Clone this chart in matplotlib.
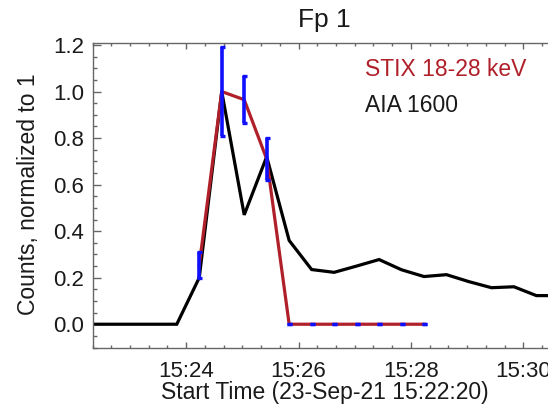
import matplotlib
matplotlib.use("Agg")
import matplotlib.pyplot as plt
from matplotlib.ticker import FixedLocator, MultipleLocator

plt.rcParams['font.family'] = ['Liberation Sans', 'DejaVu Sans']

# time in seconds after 15:22:20 (23-Sep-21)
aia_t = [-6, 18, 42, 66, 90, 114, 138, 162, 186, 210, 234, 258, 282, 306,
         330, 354, 378, 402, 426, 450, 474, 498]
aia_v = [0.0, 0.0, 0.0, 0.0, 0.0, 0.20, 1.0, 0.47, 0.72, 0.36, 0.235, 0.223,
         0.25, 0.278, 0.234, 0.205, 0.213, 0.183, 0.157, 0.161, 0.123, 0.123]

stix_t = [114, 138, 162, 186, 210, 234, 258, 282, 306, 330, 354]
stix_v = [0.255, 1.0, 0.965, 0.71, 0.0, 0.0, 0.0, 0.0, 0.0, 0.0, 0.0]
stix_err = [0.055, 0.19, 0.10, 0.09, 0.0, 0.0, 0.0, 0.0, 0.0, 0.0, 0.0]

xtick_pos = [100, 220, 340, 460]
xtick_labels = ['15:24', '15:26', '15:28', '15:30']
ytick_pos = [0.0, 0.2, 0.4, 0.6, 0.8, 1.0, 1.2]

red = '#b0202a'
W, H = 548, 409
fig = plt.figure(figsize=(W / 100, H / 100), dpi=100)
fig.patch.set_facecolor('white')
left_px, right_px, top_px, bot_px = 92.5, 557, 42.7, 347.5
ax = fig.add_axes([left_px / W, 1 - bot_px / H, (right_px - left_px) / W,
                   (bot_px - top_px) / H])

ax.plot(aia_t, aia_v, color='black', lw=2.3, zorder=2, solid_joinstyle='miter')
ax.plot(stix_t, stix_v, color=red, lw=2.3, zorder=3)
ax.errorbar(stix_t, stix_v, yerr=stix_err, fmt='none', ecolor='#1010ff',
            elinewidth=2.6, capsize=1.8, capthick=2.4, zorder=4)

ax.set_xlim(0, 496)
ax.set_ylim(-0.1, 1.21)
ax.xaxis.set_major_locator(FixedLocator(xtick_pos))
ax.set_xticklabels(xtick_labels)
ax.xaxis.set_minor_locator(MultipleLocator(20))
ax.yaxis.set_major_locator(FixedLocator(ytick_pos))
ax.set_yticklabels([f'{v:.1f}' for v in ytick_pos])
ax.yaxis.set_minor_locator(MultipleLocator(0.05))

spine_c = '#666666'
for s in ax.spines.values():
    s.set_color(spine_c)
    s.set_linewidth(1.0)
ax.tick_params(axis='both', which='both', direction='in', top=True, right=True,
               color=spine_c, labelsize=16, labelcolor='#1a1a1a')
ax.tick_params(axis='y', which='major', length=6, width=1, pad=6)
ax.tick_params(axis='y', which='minor', length=3, width=1)
ax.tick_params(axis='x', which='major', length=4, width=1, pad=10)
ax.tick_params(axis='x', which='minor', length=2.2, width=1)

fig.text(324 / W, 1 - 20 / H, 'Fp 1', ha='center', va='center', fontsize=19,
         color='#1a1a1a')
fig.text(325 / W, 1 - 393 / H, 'Start Time (23-Sep-21 15:22:20)', ha='center',
         va='center', fontsize=16.5, color='#1a1a1a')
fig.text(29 / W, 1 - 194 / H, 'Counts, normalized to 1', ha='center',
         va='center', rotation=90, fontsize=16.5, color='#1a1a1a')
fig.text(365 / W, 1 - 70 / H, 'STIX 18-28 keV', ha='left', va='center',
         fontsize=16.5, color=red)
fig.text(365 / W, 1 - 105 / H, 'AIA 1600', ha='left', va='center',
         fontsize=16.5, color='#1a1a1a')

fig.savefig('out.png', dpi=100)
